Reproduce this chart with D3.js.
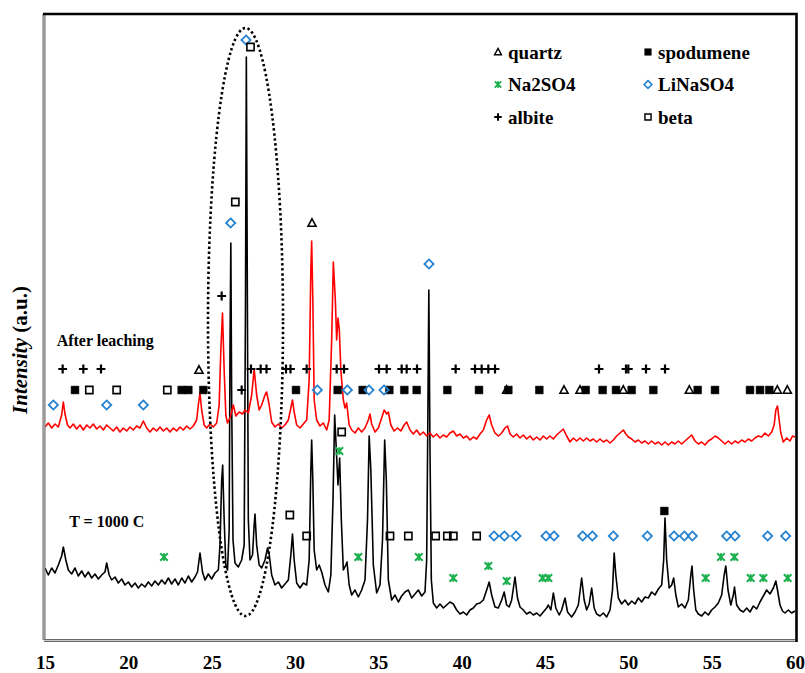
<!DOCTYPE html>
<html>
<head>
<meta charset="utf-8">
<script src="https://cdn.jsdelivr.net/npm/d3@7"></script>
<style>
  body { margin: 0; background: #fff; }
  text { font-family: "Liberation Serif", "DejaVu Serif", "Times New Roman", serif; font-weight: bold; }
</style>
</head>
<body>
<div id="xrd"></div>
<script>
// Common dimensions
const width = 805, height = 673;
const serif = "'Liberation Serif', 'DejaVu Serif', 'Times New Roman', serif";

// 2-theta ticks
const xTicks = [15, 20, 25, 30, 35, 40, 45, 50, 55, 60];

// T = 1000 C pattern: [2theta, intensity a.u.]
const roastedTrace = [
  [15.0, 72], [15.2, 65], [15.4, 72], [15.6, 67], [15.8, 75], [16.0, 84], [16.1, 93], [16.25, 80], [16.4, 70],
  [16.6, 66], [16.8, 72], [17.0, 64], [17.2, 69], [17.4, 63], [17.6, 68], [17.8, 62], [18.0, 66], [18.2, 61],
  [18.4, 65], [18.6, 68], [18.7, 77], [18.85, 65], [19.0, 60], [19.2, 63], [19.4, 57], [19.6, 61], [19.8, 55],
  [20.0, 58], [20.2, 53], [20.4, 57], [20.6, 52], [20.8, 56], [21.0, 53], [21.2, 58], [21.4, 54], [21.6, 59],
  [21.8, 55], [22.0, 60], [22.2, 56], [22.4, 62], [22.6, 56], [22.8, 61], [23.0, 55], [23.2, 62], [23.4, 57],
  [23.6, 64], [23.8, 58], [24.0, 63], [24.15, 68], [24.3, 87], [24.45, 68], [24.6, 60], [24.8, 66], [25.0, 61],
  [25.2, 67], [25.4, 70], [25.5, 95], [25.6, 160], [25.66, 175], [25.75, 120], [25.85, 75], [25.95, 70],
  [26.05, 110], [26.1, 290], [26.15, 397], [26.2, 240], [26.28, 100], [26.4, 77], [26.6, 73], [26.8, 80],
  [26.95, 95], [27.03, 340], [27.08, 583], [27.13, 390], [27.2, 120], [27.3, 80], [27.45, 85], [27.55, 115],
  [27.6, 126], [27.7, 95], [27.85, 75], [28.0, 72], [28.2, 80], [28.35, 92], [28.45, 86], [28.6, 65],
  [28.8, 55], [29.0, 58], [29.2, 52], [29.4, 56], [29.6, 60], [29.75, 85], [29.85, 106], [29.95, 80],
  [30.1, 57], [30.3, 52], [30.5, 57], [30.7, 55], [30.85, 80], [30.95, 170], [31.0, 200], [31.07, 160],
  [31.15, 90], [31.3, 70], [31.45, 75], [31.6, 68], [31.8, 55], [32.0, 48], [32.15, 65], [32.28, 140],
  [32.38, 225], [32.48, 190], [32.58, 155], [32.68, 182], [32.78, 120], [32.9, 70], [33.05, 75], [33.12, 78],
  [33.25, 55], [33.4, 45], [33.6, 50], [33.8, 43], [34.0, 50], [34.2, 60], [34.35, 120], [34.45, 204],
  [34.55, 170], [34.7, 75], [34.9, 47], [35.1, 55], [35.25, 100], [35.38, 200], [35.48, 160], [35.6, 60],
  [35.8, 40], [36.0, 45], [36.2, 38], [36.4, 44], [36.6, 48], [36.8, 50], [37.0, 42], [37.2, 46], [37.4, 50],
  [37.6, 44], [37.8, 48], [37.9, 80], [37.98, 240], [38.03, 350], [38.1, 190], [38.18, 60], [38.3, 37],
  [38.5, 32], [38.7, 36], [38.9, 32], [39.1, 35], [39.3, 38], [39.5, 36], [39.7, 30], [39.9, 26], [40.1, 28],
  [40.3, 25], [40.5, 30], [40.7, 32], [40.9, 36], [41.1, 37], [41.3, 40], [41.5, 50], [41.65, 58], [41.8, 45],
  [42.0, 33], [42.2, 32], [42.4, 40], [42.55, 48], [42.7, 35], [42.85, 33], [43.0, 40], [43.2, 63], [43.35, 42],
  [43.5, 33], [43.7, 30], [43.9, 26], [44.1, 28], [44.3, 25], [44.5, 27], [44.7, 24], [44.9, 28], [45.1, 32],
  [45.2, 35], [45.35, 30], [45.5, 47], [45.65, 32], [45.85, 25], [46.0, 30], [46.2, 42], [46.35, 28],
  [46.6, 23], [46.8, 28], [47.0, 35], [47.2, 62], [47.35, 40], [47.5, 30], [47.65, 36], [47.8, 52], [47.95, 32],
  [48.1, 26], [48.3, 24], [48.5, 27], [48.7, 23], [48.9, 30], [49.05, 50], [49.15, 87], [49.25, 65], [49.4, 42],
  [49.6, 36], [49.8, 40], [50.0, 35], [50.2, 39], [50.4, 36], [50.6, 42], [50.8, 38], [51.0, 43], [51.2, 42],
  [51.4, 48], [51.6, 45], [51.8, 51], [52.0, 55], [52.12, 80], [52.2, 122], [52.3, 80], [52.45, 52], [52.6, 55],
  [52.72, 62], [52.85, 45], [53.0, 33], [53.2, 36], [53.4, 32], [53.6, 40], [53.75, 65], [53.82, 74], [53.92, 50],
  [54.05, 30], [54.2, 26], [54.4, 24], [54.6, 28], [54.8, 25], [55.0, 30], [55.2, 33], [55.4, 37], [55.6, 45],
  [55.75, 65], [55.85, 74], [55.98, 50], [56.15, 35], [56.3, 45], [56.37, 53], [56.5, 35], [56.7, 30], [56.9, 28],
  [57.1, 32], [57.3, 28], [57.5, 34], [57.7, 31], [57.9, 38], [58.1, 44], [58.3, 50], [58.5, 46], [58.7, 52],
  [58.85, 59], [58.95, 50], [59.1, 35], [59.25, 29], [59.4, 27], [59.6, 30], [59.8, 27], [60.0, 29]
];

// After leaching pattern (stacked above): [2theta, intensity a.u.]
const leachedTrace = [
  [15.0, 213], [15.2, 217], [15.4, 212], [15.6, 216], [15.8, 213], [16.0, 225], [16.1, 238], [16.2, 226],
  [16.35, 215], [16.5, 212], [16.7, 216], [16.9, 211], [17.1, 215], [17.3, 210], [17.5, 215], [17.7, 212],
  [17.9, 216], [18.1, 211], [18.3, 214], [18.5, 210], [18.7, 215], [18.9, 212], [19.1, 209], [19.3, 213],
  [19.5, 208], [19.7, 212], [19.9, 209], [20.1, 213], [20.3, 210], [20.5, 214], [20.7, 212], [20.9, 219],
  [21.1, 212], [21.3, 208], [21.5, 212], [21.7, 209], [21.9, 213], [22.1, 209], [22.3, 212], [22.5, 208],
  [22.7, 212], [22.9, 209], [23.1, 213], [23.3, 210], [23.5, 214], [23.7, 211], [23.9, 214], [24.1, 220],
  [24.2, 235], [24.3, 247], [24.4, 230], [24.55, 215], [24.7, 212], [24.9, 216], [25.1, 213], [25.3, 217],
  [25.45, 235], [25.55, 290], [25.65, 327], [25.75, 270], [25.85, 225], [25.95, 217], [26.1, 222], [26.3, 235],
  [26.45, 224], [26.65, 228], [26.85, 226], [27.0, 230], [27.2, 227], [27.4, 245], [27.55, 271], [27.7, 245],
  [27.85, 230], [28.0, 235], [28.2, 245], [28.3, 248], [28.45, 235], [28.6, 218], [28.8, 213], [29.0, 216],
  [29.2, 212], [29.4, 215], [29.6, 220], [29.75, 232], [29.85, 240], [29.95, 228], [30.1, 215], [30.3, 212],
  [30.5, 216], [30.7, 220], [30.85, 260], [30.95, 370], [31.0, 399], [31.07, 340], [31.15, 240], [31.3, 220],
  [31.5, 214], [31.7, 217], [31.9, 210], [32.05, 220], [32.2, 300], [32.3, 378], [32.42, 340], [32.5, 300],
  [32.58, 322], [32.66, 310], [32.75, 270], [32.9, 240], [33.0, 232], [33.1, 237], [33.25, 215], [33.4, 210],
  [33.6, 207], [33.8, 212], [34.0, 208], [34.2, 212], [34.4, 220], [34.5, 226], [34.6, 216], [34.8, 208],
  [35.0, 212], [35.2, 222], [35.35, 230], [35.5, 226], [35.6, 228], [35.75, 215], [35.95, 209], [36.15, 212],
  [36.35, 209], [36.55, 215], [36.7, 218], [36.9, 210], [37.1, 206], [37.3, 210], [37.5, 205], [37.7, 208],
  [37.9, 204], [38.1, 207], [38.3, 203], [38.5, 206], [38.7, 202], [38.9, 205], [39.1, 203], [39.3, 207],
  [39.5, 209], [39.7, 204], [39.9, 206], [40.1, 202], [40.3, 204], [40.5, 200], [40.7, 203], [40.9, 201],
  [41.1, 206], [41.3, 210], [41.5, 220], [41.65, 225], [41.8, 215], [42.0, 207], [42.2, 204], [42.4, 207],
  [42.6, 212], [42.75, 214], [42.9, 206], [43.1, 203], [43.3, 206], [43.5, 202], [43.7, 205], [43.9, 201],
  [44.1, 204], [44.3, 200], [44.5, 203], [44.7, 200], [44.9, 204], [45.1, 201], [45.3, 204], [45.5, 201],
  [45.7, 205], [45.9, 208], [46.1, 211], [46.3, 204], [46.5, 198], [46.7, 202], [46.9, 199], [47.1, 202],
  [47.3, 199], [47.5, 202], [47.7, 199], [47.9, 201], [48.1, 198], [48.3, 201], [48.5, 198], [48.7, 200],
  [48.9, 197], [49.1, 200], [49.3, 204], [49.5, 207], [49.7, 210], [49.85, 206], [50.0, 203], [50.2, 201],
  [50.4, 198], [50.6, 200], [50.8, 197], [51.0, 199], [51.2, 196], [51.4, 199], [51.6, 196], [51.8, 198],
  [52.0, 195], [52.2, 198], [52.4, 195], [52.6, 198], [52.8, 196], [53.0, 199], [53.2, 196], [53.4, 199],
  [53.6, 202], [53.8, 205], [54.0, 199], [54.2, 196], [54.4, 198], [54.6, 195], [54.8, 199], [55.0, 201],
  [55.2, 204], [55.4, 202], [55.6, 199], [55.8, 196], [56.0, 199], [56.2, 196], [56.4, 199], [56.6, 197],
  [56.8, 200], [57.0, 198], [57.2, 201], [57.4, 199], [57.6, 202], [57.8, 204], [58.0, 203], [58.2, 207],
  [58.4, 204], [58.6, 208], [58.75, 215], [58.85, 230], [58.95, 234], [59.05, 220], [59.15, 207], [59.3, 198],
  [59.5, 202], [59.7, 199], [59.85, 204], [60.0, 203]
];

// Phase identification marks: [2theta, intensity a.u.]
const quartzPeaks = [
  [24.24, 270], [31.02, 417], [42.7, 250], [46.14, 250], [47.1, 250], [49.7, 250],
  [53.66, 250], [58.94, 250], [59.54, 250]
];
const spodumenePeaks = [
  [16.8, 250], [23.2, 250], [23.6, 250], [24.5, 250], [30.06, 250], [32.56, 250], [34.06, 250],
  [35.66, 250], [36.56, 250], [37.3, 250], [39.14, 250], [41.04, 250], [42.8, 250], [44.66, 250],
  [47.44, 250], [48.46, 250], [49.26, 250], [50.2, 250], [51.5, 250], [54.16, 250], [55.2, 250],
  [57.3, 250], [57.9, 250], [58.46, 250], [52.16, 129]
];
const na2so4Peaks = [
  [22.14, 83], [32.66, 189], [33.8, 83], [37.43, 83], [39.5, 62], [41.6, 74], [42.7, 59],
  [44.86, 62], [45.2, 62], [54.64, 62], [55.56, 83], [56.36, 83], [57.34, 62], [58.1, 62], [59.56, 62]
];
const linaso4Peaks = [
  [15.5, 235], [18.7, 235], [20.9, 235], [26.14, 417], [27.06, 600], [31.34, 250], [33.14, 250],
  [34.44, 250], [35.34, 250], [38.04, 376], [41.94, 104], [42.56, 104], [43.26, 104], [45.06, 104],
  [45.54, 104], [47.26, 104], [47.84, 104], [49.1, 104], [51.14, 104], [52.74, 104], [53.36, 104],
  [53.84, 104], [55.9, 104], [56.4, 104], [58.36, 104], [59.44, 104]
];
const albitePeaks = [
  [16.06, 271], [17.3, 271], [18.36, 271], [25.6, 344], [26.8, 250], [27.36, 271], [27.94, 271],
  [28.29, 271], [29.46, 271], [29.73, 271], [30.7, 271], [32.5, 271], [32.94, 271], [35.04, 271],
  [35.5, 271], [36.4, 271], [36.7, 271], [37.32, 271], [39.64, 271], [40.8, 271], [41.2, 271],
  [41.6, 271], [42.0, 271], [48.24, 271], [49.86, 271], [50.0, 271], [51.06, 271], [52.2, 271]
];
const betaPeaks = [
  [17.66, 250], [19.3, 250], [22.34, 250], [26.42, 438], [27.33, 593], [29.69, 125], [30.7, 104],
  [32.8, 208], [35.7, 104], [36.8, 104], [38.44, 104], [39.14, 104], [39.5, 104], [40.9, 104]
];

// Dotted ellipse round the 25-29 degree region: centre and radii in data units
const highlightCentre = [27.03, 318];
const highlightRadii = [2.25, 294];

const seriesLabels = [
  { text: "After leaching", at: [15.7, 294] },
  { text: "T = 1000 C", at: [16.45, 113] }
];

// Marker shape paths, h = half size
const shapes = {
  triangle: h => `M0,${-h * 1.05}L${h},${h * 0.8}L${-h},${h * 0.8}Z`,
  square: h => `M${-h},${-h}h${2 * h}v${2 * h}h${-2 * h}Z`,
  diamond: h => `M0,${-h}L${h},0L0,${h}L${-h},0Z`,
  plus: h => `M${-h},0H${h}M0,${-h}V${h}`,
  star: h => `M${-h},${-h}L${h},${h}M${h},${-h}L${-h},${h}M0,${-h}V${h}`
};

const phases = [
  { label: "quartz", data: quartzPeaks, shape: "triangle", fill: "none", stroke: "#000", sw: 1.6, h: 4 },
  { label: "spodumene", data: spodumenePeaks, shape: "square", fill: "#000", stroke: "#000", sw: 0.5, h: 3.9 },
  { label: "Na2SO4", data: na2so4Peaks, shape: "star", fill: "none", stroke: "#1cb04e", sw: 2, h: 3.8 },
  { label: "LiNaSO4", data: linaso4Peaks, shape: "diamond", fill: "none", stroke: "#2683d1", sw: 1.8, h: 4.6 },
  { label: "albite", data: albitePeaks, shape: "plus", fill: "none", stroke: "#000", sw: 2.2, h: 4.4 },
  { label: "beta", data: betaPeaks, shape: "square", fill: "none", stroke: "#000", sw: 1.6, h: 3.6 }
];

const svg = d3.select("#xrd").append("svg")
  .attr("width", width)
  .attr("height", height);

const x = d3.scaleLinear().domain([15, 60]).range([45, 795]);
const y = d3.scaleLinear().domain([0, 626]).range([640, 14]);

const line = d3.line().x(d => x(d[0])).y(d => y(d[1]));

// Patterns
svg.append("path")
  .datum(roastedTrace)
  .attr("d", line)
  .attr("fill", "none")
  .attr("stroke", "#000")
  .attr("stroke-width", 1.6)
  .attr("stroke-linejoin", "round");

svg.append("path")
  .datum(leachedTrace)
  .attr("d", line)
  .attr("fill", "none")
  .attr("stroke", "#ff0000")
  .attr("stroke-width", 1.6)
  .attr("stroke-linejoin", "round");

// Phase marks
phases.forEach(p => {
  svg.append("g").selectAll("path")
    .data(p.data)
    .join("path")
    .attr("transform", d => `translate(${x(d[0])},${y(d[1])})`)
    .attr("d", shapes[p.shape](p.h))
    .attr("fill", p.fill)
    .attr("stroke", p.stroke)
    .attr("stroke-width", p.sw);
});

// Dotted ellipse
svg.append("ellipse")
  .attr("cx", x(highlightCentre[0]))
  .attr("cy", y(highlightCentre[1]))
  .attr("rx", x(highlightCentre[0] + highlightRadii[0]) - x(highlightCentre[0]))
  .attr("ry", y(0) - y(highlightRadii[1]))
  .attr("fill", "none")
  .attr("stroke", "#000")
  .attr("stroke-width", 2.6)
  .attr("stroke-dasharray", "2.4,2.6");

// Series labels
svg.selectAll(".series-label")
  .data(seriesLabels)
  .join("text")
  .attr("class", "series-label")
  .attr("x", d => x(d.at[0]))
  .attr("y", d => y(d.at[1]))
  .attr("font-family", serif)
  .attr("font-size", 16)
  .text(d => d.text);

// Legend, two columns
const legend = svg.append("g");
phases.forEach((p, i) => {
  const col = i % 2, row = Math.floor(i / 2);
  const lx = 498 + col * 150, ly = 52 + row * 32.5;
  legend.append("path")
    .attr("transform", `translate(${lx},${ly})`)
    .attr("d", shapes[p.shape](p.h * 0.85))
    .attr("fill", p.fill)
    .attr("stroke", p.stroke)
    .attr("stroke-width", p.sw * 0.9);
  legend.append("text")
    .attr("x", lx + 10)
    .attr("y", ly + 6.5)
    .attr("font-family", serif)
    .attr("font-size", 19)
    .text(p.label);
});

// Frame: dark top/right, grey double left/bottom
const frame = svg.append("g").attr("fill", "none");
frame.append("path")
  .attr("d", `M44,640V14`)
  .attr("stroke", "#6a6a6a").attr("stroke-width", 3);
frame.append("path")
  .attr("d", `M44,641V14`)
  .attr("stroke", "#c8c8c8").attr("stroke-width", 1);
frame.append("path")
  .attr("d", `M44,640.5H795`)
  .attr("stroke", "#6a6a6a").attr("stroke-width", 3);
frame.append("path")
  .attr("d", `M44,640.5H795`)
  .attr("stroke", "#c8c8c8").attr("stroke-width", 1);
frame.append("path")
  .attr("d", `M43,14H796.5V642`)
  .attr("stroke", "#000").attr("stroke-width", 2.6);

// X axis labels
svg.append("g")
  .attr("transform", `translate(0,640)`)
  .call(d3.axisBottom(x).tickValues(xTicks).tickSize(0).tickPadding(15.5).tickFormat(d3.format("d")))
  .call(g => g.select(".domain").remove())
  .selectAll("text")
  .attr("font-family", serif)
  .attr("font-weight", "bold")
  .attr("font-size", 19)
  .attr("fill", "#000");

// Y axis title
const yTitle = svg.append("text")
  .attr("transform", "translate(27,350) rotate(-90)")
  .attr("text-anchor", "middle")
  .attr("font-family", serif)
  .attr("font-size", 21);
yTitle.append("tspan").attr("font-style", "italic").text("Intensity");
yTitle.append("tspan").text(" (a.u.)");
</script>
</body>
</html>
